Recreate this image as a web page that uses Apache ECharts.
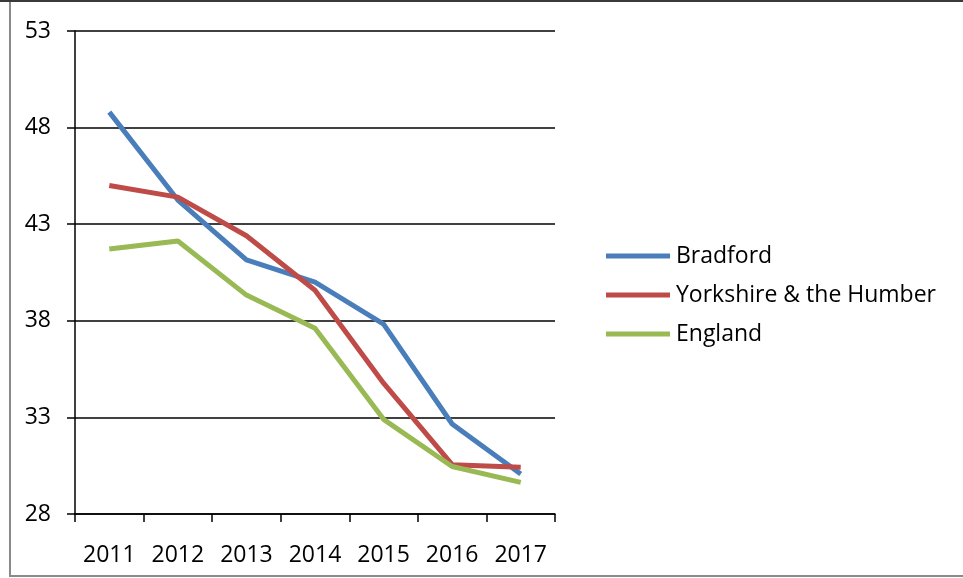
<!DOCTYPE html>
<html>
<head>
<meta charset="utf-8">
<script src="https://cdn.jsdelivr.net/npm/echarts@6/dist/echarts.min.js"></script>
<style>
  html, body { margin: 0; padding: 0; background: #fff; }
  #chart { width: 963px; height: 578px; }
</style>
</head>
<body>
<div id="chart"></div>
<script>
const years = ['2011', '2012', '2013', '2014', '2015', '2016', '2017']
const bradford = [48.8, 44.25, 41.15, 40.0, 37.83, 32.66, 30.07]
const yorkshire = [45.0, 44.4, 42.4, 39.58, 34.77, 30.55, 30.42]
const england = [41.72, 42.13, 39.33, 37.62, 32.9, 30.46, 29.64]

const font = '"Open Sans", "Liberation Sans", sans-serif'

const chart = echarts.init(document.getElementById('chart'))

chart.setOption({
  animation: false,
  backgroundColor: '#fff',
  graphic: [
    {
      type: 'rect',
      shape: { x: 10, y: 1, width: 960, height: 575 },
      style: { fill: 'none', stroke: '#8a8a8a', lineWidth: 2 },
      silent: true,
    },
    {
      type: 'line',
      shape: { x1: 0, y1: 1, x2: 963, y2: 1 },
      style: { stroke: '#3a3a3a', lineWidth: 2 },
      silent: true,
    },
  ],
  grid: { left: 75, right: 408, top: 31, bottom: 64 },
  legend: {
    orient: 'vertical',
    left: 601,
    top: 238,
    icon: 'rect',
    itemWidth: 64,
    itemHeight: 5,
    itemGap: 13,
    textStyle: { fontFamily: font, fontSize: 23, color: '#000', lineHeight: 26, padding: [0, 0, 0, 1] },
    data: ['Bradford', 'Yorkshire & the Humber', 'England'],
  },
  xAxis: {
    type: 'category',
    data: years,
    boundaryGap: true,
    axisLine: { lineStyle: { color: '#000', width: 1.5 } },
    axisTick: { show: true, length: 8, lineStyle: { color: '#000', width: 1.5 } },
    axisLabel: { fontFamily: font, fontSize: 23, color: '#000', margin: 30 },
  },
  yAxis: {
    type: 'value',
    min: 28,
    max: 53,
    interval: 5,
    axisLine: { show: true, lineStyle: { color: '#000', width: 1.5 } },
    axisTick: { show: true, length: 8, lineStyle: { color: '#000', width: 1.5 } },
    axisLabel: { fontFamily: font, fontSize: 23, color: '#000', margin: 24 },
    splitLine: { show: true, lineStyle: { color: '#000', width: 1.5 } },
  },
  series: [
    {
      name: 'Bradford',
      type: 'line',
      data: bradford,
      symbol: 'none',
      color: '#4A7EBB',
      lineStyle: { width: 5, color: '#4A7EBB' },
    },
    {
      name: 'Yorkshire & the Humber',
      type: 'line',
      data: yorkshire,
      symbol: 'none',
      color: '#BE4B48',
      lineStyle: { width: 5, color: '#BE4B48' },
    },
    {
      name: 'England',
      type: 'line',
      data: england,
      symbol: 'none',
      color: '#98B954',
      lineStyle: { width: 5, color: '#98B954' },
    },
  ],
})
</script>
</body>
</html>
